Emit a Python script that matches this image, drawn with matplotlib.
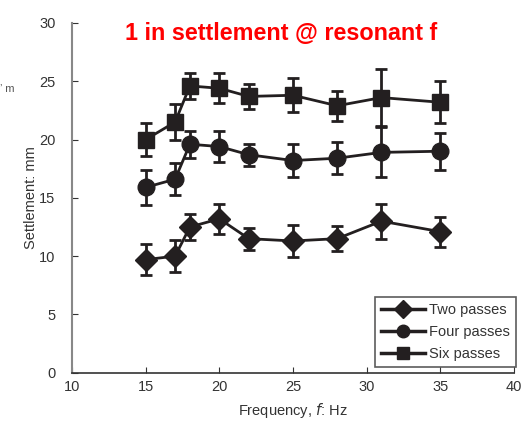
import matplotlib.pyplot as plt
from matplotlib.lines import Line2D
import numpy as np

plt.rcParams['font.family'] = ['Liberation Sans', 'DejaVu Sans']

# frequencies [Hz]
freq = [15, 17, 18, 20, 22, 25, 28, 31, 35]

# settlement [mm] and error bars
two_passes = [9.7, 10.0, 12.5, 13.2, 11.5, 11.3, 11.5, 13.0, 12.1]
two_err = [1.3, 1.4, 1.15, 1.3, 0.95, 1.4, 1.1, 1.5, 1.3]
four_passes = [15.9, 16.6, 19.6, 19.4, 18.7, 18.2, 18.4, 18.9, 19.0]
four_err = [1.5, 1.35, 1.15, 1.3, 0.95, 1.45, 1.35, 2.15, 1.6]
six_passes = [20.0, 21.5, 24.6, 24.4, 23.7, 23.8, 22.9, 23.6, 23.2]
six_err = [1.4, 1.55, 1.1, 1.27, 1.07, 1.47, 1.3, 2.45, 1.8]

labels = ['Two passes', 'Four passes', 'Six passes']
markers = ['D', 'o', 's']
kor = '#231f20'

fig = plt.figure(figsize=(5.23, 4.21), dpi=100)
ax = fig.add_axes([0.1377, 0.1147, 0.845, 0.8307])

ax.errorbar(freq, two_passes, yerr=two_err, color=kor, marker='D', ms=11,
            lw=2, elinewidth=2, capsize=4, capthick=2)
ax.errorbar(freq, four_passes, yerr=four_err, color=kor, marker='o', ms=12,
            lw=2, elinewidth=2, capsize=4, capthick=2)
ax.errorbar(freq, six_passes, yerr=six_err, color=kor, marker='s', ms=11,
            lw=2, elinewidth=2, capsize=4, capthick=2)

ax.set_xlim(10, 40)
ax.set_ylim(0, 30)
ax.set_xticks(np.arange(10, 41, 5))
ax.set_yticks(np.arange(0, 31, 5))
ax.spines['top'].set_visible(False)
ax.spines['right'].set_visible(False)
ax.spines['left'].set_color('#888888')
ax.spines['left'].set_linewidth(1.5)
ax.spines['bottom'].set_color('#333333')
ax.spines['bottom'].set_linewidth(1.2)
ax.tick_params(direction='in', length=4, labelsize=10.5, labelcolor='#333333',
               color='#333333')
ax.tick_params(axis='y', pad=12)
ax.tick_params(axis='x', pad=5)

ax.set_xlabel('Frequency, $\\it{f}$: Hz', fontsize=10.5, color='#333333', labelpad=5)
ax.set_ylabel('Settlement: mm', fontsize=10.5, color='#333333')
ax.yaxis.set_label_coords(-0.078, 0.5)

handles = [Line2D([], [], color=kor, lw=2.5, marker=m, ms=9) for m in markers]
leg = ax.legend(handles, labels, loc='lower right',
                bbox_to_anchor=(516 / 523, 1 - 367 / 421),
                bbox_transform=fig.transFigure, fontsize=10.5, frameon=True,
                fancybox=False, handlelength=3.0, handletextpad=0.3,
                labelspacing=0.55, borderpad=0.4, borderaxespad=0)
leg.get_frame().set_edgecolor('#333333')
leg.get_frame().set_linewidth(1.2)
for t in leg.get_texts():
    t.set_color('#333333')

fig.text(281 / 523, 1 - 34 / 421, '1 in settlement @ resonant f', color='red',
         fontsize=16.8, fontweight='bold', ha='center', va='center')
fig.text(0 / 523, 1 - 89 / 421, '\u2019 m', color='#555555', fontsize=8,
         ha='left', va='center')

fig.savefig('out.png', dpi=100)
